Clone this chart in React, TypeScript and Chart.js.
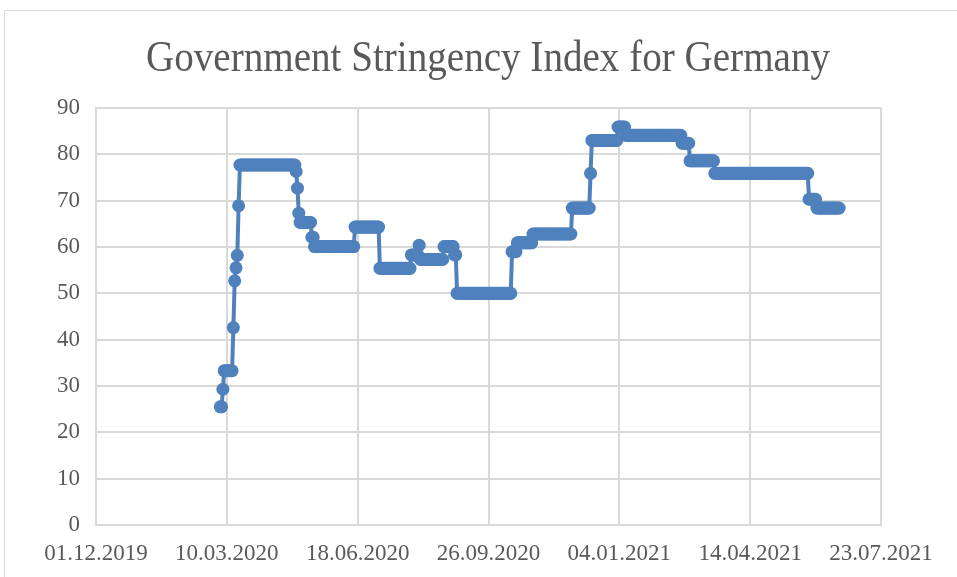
import React, { useEffect, useRef } from "react";
import { Chart, registerables } from "chart.js";

Chart.register(...registerables);

// Step runs of the daily Government Stringency Index (start date of each run, value)
const runStartDates = [
  "2020-03-05", "2020-03-07", "2020-03-08", "2020-03-15", "2020-03-16", "2020-03-17",
  "2020-03-18", "2020-03-19", "2020-03-20", "2020-05-02", "2020-05-03", "2020-05-04",
  "2020-05-05", "2020-05-14", "2020-05-16", "2020-06-16", "2020-07-05", "2020-07-29",
  "2020-08-04", "2020-08-05", "2020-08-23", "2020-08-31", "2020-09-02", "2020-10-14",
  "2020-10-18", "2020-10-30", "2020-11-29", "2020-12-13", "2020-12-14", "2021-01-03",
  "2021-01-09", "2021-02-21", "2021-02-27", "2021-03-18", "2021-05-29", "2021-06-04",
];
const runValues = [
  25.5, 29.3, 33.3, 42.6, 52.7, 55.5,
  58.2, 68.9, 77.7, 76.3, 72.7, 67.3,
  65.3, 62.1, 60.1, 64.3, 55.4, 58.3,
  60.4, 57.3, 60.1, 58.3, 50.0, 59.0,
  60.9, 62.8, 68.4, 75.9, 83.0, 85.9,
  84.1, 82.4, 78.6, 75.9, 70.3, 68.4,
];
const lastDate = "2021-06-21";

// Axis
const axisStartDate = "2019-12-01";
const xTickStepDays = 100;
const xTickCount = 6;
const yMax = 90;
const yStep = 10;
const titleText = "Government Stringency Index for Germany";

const DAY = 86400000;
const toUTC = (s: string) => {
  const [y, m, d] = s.split("-").map(Number);
  return Date.UTC(y, m - 1, d);
};
const BASE = toUTC(axisStartDate);
const dayOf = (s: string) => Math.round((toUTC(s) - BASE) / DAY);
const fmt = (day: number) => {
  const dt = new Date(BASE + day * DAY);
  const dd = String(dt.getUTCDate()).padStart(2, "0");
  const mm = String(dt.getUTCMonth() + 1).padStart(2, "0");
  return `${dd}.${mm}.${dt.getUTCFullYear()}`;
};

function buildPoints() {
  const pts: { x: number; y: number }[] = [];
  for (let i = 0; i < runStartDates.length; i++) {
    const s = dayOf(runStartDates[i]);
    const e = i + 1 < runStartDates.length ? dayOf(runStartDates[i + 1]) - 1 : dayOf(lastDate);
    for (let d = s; d <= e; d++) pts.push({ x: d, y: runValues[i] });
  }
  return pts;
}

const titlePlugin = {
  id: "condensedTitle",
  afterDraw(chart: any) {
    const ctx = chart.ctx;
    ctx.save();
    ctx.font = '44px "Liberation Serif", serif';
    ctx.fillStyle = "#595959";
    ctx.textAlign = "center";
    ctx.textBaseline = "alphabetic";
    const w = ctx.measureText(titleText).width;
    const target = 684;
    const sx = target / w;
    ctx.translate(488, 71);
    ctx.scale(sx, 1);
    ctx.fillText(titleText, 0, 0);
    ctx.restore();
  },
};

export default function App() {
  const ref = useRef<HTMLCanvasElement | null>(null);
  useEffect(() => {
    if (!ref.current) return;
    const blue = "#4F81BD";
    const grid = "#D9D9D9";
    const chart = new Chart(ref.current, {
      type: "line",
      data: {
        datasets: [
          {
            label: "Stringency Index",
            data: buildPoints(),
            borderColor: blue,
            backgroundColor: blue,
            borderWidth: 4,
            borderJoinStyle: "round",
            borderCapStyle: "round",
            pointRadius: 6.5,
            pointBorderWidth: 0,
            pointBackgroundColor: blue,
            pointHoverRadius: 6.5,
            tension: 0,
          },
        ],
      },
      options: {
        animation: false,
        responsive: false,
        devicePixelRatio: 1,
        layout: { padding: { top: 108, right: 76, left: 0, bottom: 0 } },
        plugins: {
          legend: { display: false },
          title: { display: false },
          tooltip: { enabled: false },
        },
        scales: {
          x: {
            type: "linear",
            min: 0,
            max: xTickStepDays * xTickCount,
            afterFit: (s: any) => {
              s.height = 52;
            },
            grid: { color: grid, lineWidth: 2, drawTicks: false },
            border: { display: true, color: grid, width: 2 },
            ticks: {
              stepSize: xTickStepDays,
              padding: 15,
              color: "#595959",
              font: { family: '"Liberation Serif", serif', size: 23 },
              callback: (v: any) => fmt(Number(v)),
              maxRotation: 0,
              autoSkip: false,
            },
          },
          y: {
            min: 0,
            max: yMax,
            afterFit: (s: any) => {
              s.width = 96;
            },
            grid: { color: grid, lineWidth: 2, drawTicks: false },
            border: { display: true, color: grid, width: 2 },
            ticks: {
              stepSize: yStep,
              padding: 16,
              color: "#595959",
              font: { family: '"Liberation Serif", serif', size: 23 },
            },
          },
        },
      },
      plugins: [titlePlugin],
    });
    return () => chart.destroy();
  }, []);

  return (
    <div
      style={{
        position: "absolute",
        left: 0,
        top: 0,
        width: 957,
        height: 577,
        overflow: "hidden",
        background: "#ffffff",
      }}
    >
      <div
        style={{
          position: "absolute",
          left: 4,
          top: 10,
          width: 1000,
          height: 1000,
          border: "1.5px solid #D9D9D9",
        }}
      />
      <canvas
        ref={ref}
        width={957}
        height={577}
        style={{ position: "absolute", left: 0, top: 0, width: 957, height: 577 }}
      />
    </div>
  );
}
